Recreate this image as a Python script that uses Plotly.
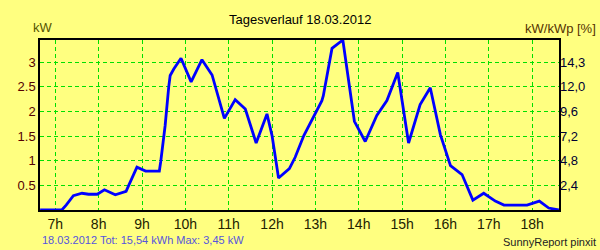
import plotly.graph_objects as go

times = ["6:39", "7:09", "7:15", "7:20", "7:25", "7:37", "7:46", "7:58", "8:08", "8:23",
         "8:38", "8:41", "8:53", "9:05", "9:24", "9:26", "9:32", "9:37", "9:39", "9:44",
         "9:54", "10:08", "10:23", "10:37", "10:42", "10:54", "11:09", "11:23", "11:38", "11:53",
         "12:00", "12:09", "12:24", "12:32", "12:44", "13:09", "13:11", "13:23", "13:38", "13:54",
         "14:09", "14:25", "14:39", "14:54", "15:09", "15:18", "15:25", "15:39", "15:53", "16:07",
         "16:23", "16:38", "16:53", "17:09", "17:21", "17:53", "18:10", "18:23", "18:37"]
power_kw = [0.0, 0.0, 0.10, 0.20, 0.29, 0.34, 0.32, 0.32, 0.41, 0.31,
            0.38, 0.48, 0.87, 0.79, 0.79, 0.99, 1.71, 2.50, 2.73, 2.86,
            3.08, 2.60, 3.05, 2.74, 2.49, 1.86, 2.24, 2.05, 1.36, 1.95,
            1.51, 0.65, 0.84, 1.07, 1.51, 2.22, 2.32, 3.28, 3.45, 1.80,
            1.39, 1.92, 2.22, 2.79, 1.36, 1.80, 2.14, 2.48, 1.53, 0.90,
            0.72, 0.20, 0.34, 0.18, 0.10, 0.10, 0.18, 0.04, 0.0]

hour_ticks = [7, 8, 9, 10, 11, 12, 13, 14, 15, 16, 17, 18]
hour_labels = ["7h", "8h", "9h", "10h", "11h", "12h", "13h", "14h", "15h", "16h", "17h", "18h"]
kw_ticks = [0.5, 1, 1.5, 2, 2.5, 3]
kw_labels = ["0.5", "1", "1.5", "2", "2.5", "3"]
pct_labels = ["2,4", "4,8", "7,2", "9,6", "12,0", "14,3"]

title_text = "Tagesverlauf 18.03.2012"
summary_text = "18.03.2012 Tot: 15,54 kWh Max: 3,45 kW"
credit_text = "SunnyReport pinxit"

def to_hours(t):
    h, m = t.split(":")
    return int(h) + int(m) / 60.0

x_hours = [to_hours(t) for t in times]

FONT = "Liberation Sans, Arial, sans-serif"
BG = "#FFFF80"
GRID = "#00E000"

L, R, T, B = 40, 41, 40, 40
PW, PH = 600 - L - R, 250 - T - B

fig = go.Figure()
fig.add_trace(go.Scatter(x=x_hours, y=power_kw, mode="lines",
                         line=dict(color="#0000FF", width=2.8),
                         hoverinfo="skip", showlegend=False))
fig.add_trace(go.Scatter(x=[x_hours[0]], y=[0], yaxis="y2", mode="markers",
                         marker=dict(opacity=0), hoverinfo="skip", showlegend=False))

fig.update_layout(
    width=600, height=250,
    margin=dict(l=L, r=R, t=T, b=B),
    paper_bgcolor=BG, plot_bgcolor=BG,
    font=dict(family=FONT, size=13, color="#000000"),
    xaxis=dict(range=[6.647, 18.62], tickvals=hour_ticks, ticktext=hour_labels,
               showgrid=True, gridcolor=GRID, griddash="4px,3px", gridwidth=1,
               showline=True, linecolor="#000000", linewidth=1.5, mirror=True,
               zeroline=False, ticks="", tickfont=dict(size=14, color="#222200"),
               fixedrange=True),
    yaxis=dict(range=[0, 3.45], tickvals=kw_ticks, ticktext=kw_labels,
               showgrid=True, gridcolor=GRID, griddash="4px,3px", gridwidth=1,
               showline=True, linecolor="#000000", linewidth=1.5, mirror=True,
               zeroline=False, ticks="", tickfont=dict(size=13, color="#550000"),
               fixedrange=True),
    yaxis2=dict(range=[0, 3.45], tickvals=kw_ticks, ticktext=pct_labels,
                overlaying="y", side="right", showgrid=False, zeroline=False,
                showline=False, ticks="", tickfont=dict(size=13, color="#000033"),
                fixedrange=True),
)

annots = [
    dict(text=title_text, x=300, y=19, xanchor="center", color="#000000", size=13),
    dict(text="kW", x=31, y=27, xanchor="left", color="#555500", size=13),
    dict(text="kW/kWp [%]", x=598, y=28, xanchor="right", color="#553300", size=13),
    dict(text=summary_text, x=40, y=240, xanchor="left", color="#5555DD", size=11),
    dict(text=credit_text, x=598, y=242, xanchor="right", color="#222222", size=11),
]
for a in annots:
    fig.add_annotation(text=a["text"], x=(a["x"] - L) / PW, y=(250 - B - a["y"]) / PH,
                       xref="paper", yref="paper", showarrow=False,
                       xanchor=a["xanchor"], yanchor="middle",
                       font=dict(family=FONT, size=a["size"], color=a["color"]))

fig.write_html("out.html", config={"displayModeBar": False})
